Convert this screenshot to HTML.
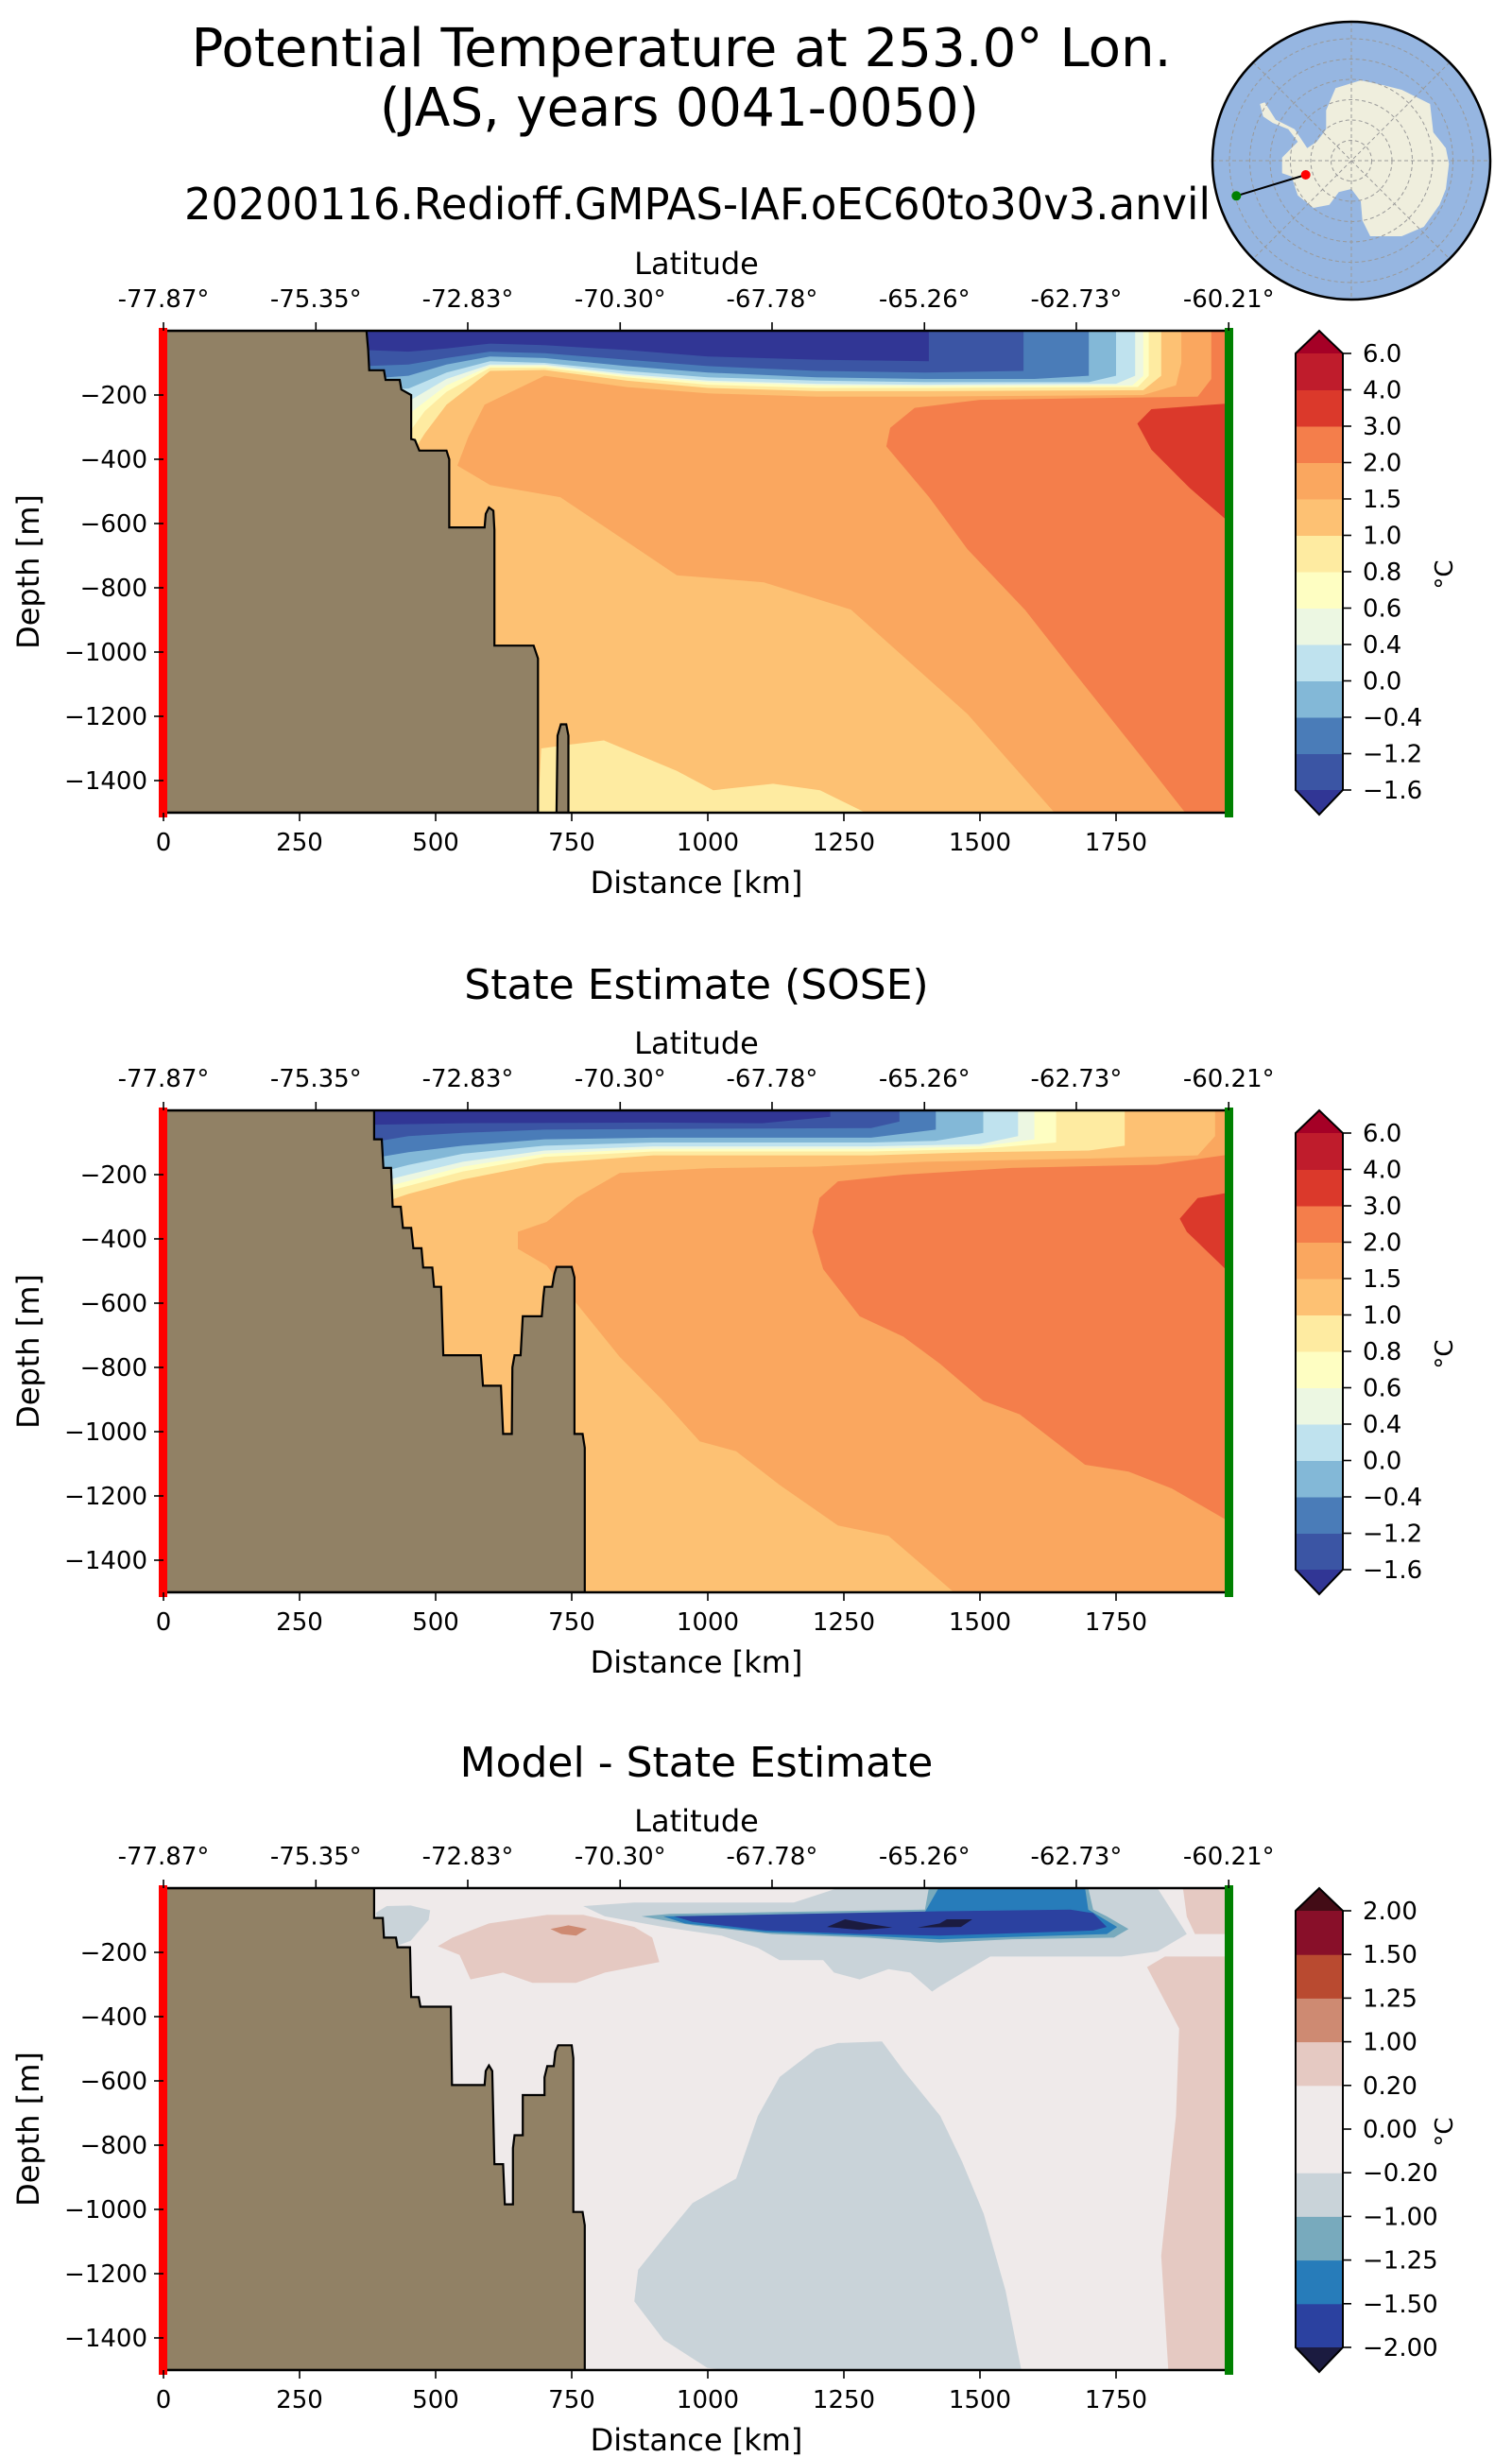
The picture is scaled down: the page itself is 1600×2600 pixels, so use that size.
<!DOCTYPE html>
<html><head><meta charset="utf-8">
<style>
html,body{margin:0;padding:0;background:#fff;}
svg{display:block;font-family:"DejaVu Sans","Liberation Sans",sans-serif;}
</style></head>
<body>
<svg id="chart" xmlns="http://www.w3.org/2000/svg" width="1600" height="2600" viewBox="0 0 1600 2600">
<rect x="0" y="0" width="1600" height="2600" fill="#fff"/>
<text x="721" y="70" font-size="56" text-anchor="middle" textLength="1037" lengthAdjust="spacingAndGlyphs">Potential Temperature at 253.0° Lon.</text>
<text x="719" y="133" font-size="56" text-anchor="middle" textLength="634" lengthAdjust="spacingAndGlyphs">(JAS, years 0041-0050)</text>
<text x="738" y="232" font-size="46" text-anchor="middle" textLength="1086" lengthAdjust="spacingAndGlyphs">20200116.Redioff.GMPAS-IAF.oEC60to30v3.anvil</text>
<g id="map"></g>
<g id="panels"></g>
</svg>
<script>
const NS='http://www.w3.org/2000/svg';
const svg=document.getElementById('chart');

// ---- data ----
const distTicks=[0,250,500,750,1000,1250,1500,1750];
const depthTicks=[200,400,600,800,1000,1200,1400];
const latTickKm=[0,280,559,839,1118,1398,1677,1957];
const latTickLabels=['-77.87°','-75.35°','-72.83°','-70.30°','-67.78°','-65.26°','-62.73°','-60.21°'];
const tempBounds=['−1.6','−1.2','−0.4','0.0','0.4','0.6','0.8','1.0','1.5','2.0','3.0','4.0','6.0'];
const tempColors=['#313695','#3b55a4','#4a7cb8','#83b8d7','#bfe2ee','#ecf7e2','#fefec2','#feeba1','#fdc173','#faa75f','#f47e4b','#db392b','#bf1c2c','#a50026'];
const diffBounds=['−2.00','−1.50','−1.25','−1.00','−0.20','0.00','0.20','1.00','1.25','1.50','2.00'];
const diffColors=['#1b1b40','#2b41a0','#277cba','#78aabd','#c9d3d9','#efeaea','#efeaea','#e5c9c2','#ce8a72','#b94a30','#880f29','#430c16'];

const p1Regions=[
 [9,[[1870,0],[1967,0],[1967,1500],[1637,1500],[1477,1193],[1263,868],[1103,783],[943,761],[729,518],[600,480],[540,420],[560,330],[590,230],[700,140],[850,175],[1000,195],[1200,205],[1400,205],[1800,200],[1860,170],[1870,100]]],
 [10,[[1925,0],[1967,0],[1967,1500],[1877,1500],[1797,1327],[1670,1057],[1583,869],[1477,680],[1406,517],[1328,360],[1335,302],[1380,240],[1500,215],[1700,210],[1900,205],[1925,150]]],
 [11,[[1967,225],[1815,244],[1789,289],[1815,370],[1885,489],[1967,610]]],
 [7,[[688,1500],[694,1300],[747,1288],[809,1275],[943,1370],[1010,1430],[1120,1410],[1206,1430],[1290,1500]]],
 [7,[[370,0],[1833,0],[1833,140],[1800,185],[1400,188],[1200,188],[1000,178],[850,155],[700,122],[600,125],[520,230],[480,320],[450,400],[370,400]]],
 [6,[[370,0],[1810,0],[1810,140],[1790,175],[1400,178],[1200,178],[1000,168],[850,145],[700,115],[600,115],[520,190],[480,250],[450,320],[370,320]]],
 [5,[[370,0],[1800,0],[1800,140],[1780,170],[1400,172],[1200,170],[1000,160],[850,140],[700,110],[600,110],[520,170],[450,260],[370,260]]],
 [4,[[370,0],[1785,0],[1785,140],[1750,165],[1400,168],[1200,165],[1000,155],[850,135],[700,105],[600,105],[520,150],[450,220],[370,220]]],
 [3,[[370,0],[1750,0],[1750,140],[1700,160],[1400,160],[1200,155],[1000,145],[850,125],[700,100],[600,95],[520,130],[450,180],[370,180]]],
 [2,[[370,0],[1700,0],[1700,140],[1600,150],[1400,150],[1200,145],[1000,130],[850,110],[700,85],[600,80],[520,105],[450,140],[370,150]]],
 [1,[[370,0],[1580,0],[1580,125],[1400,130],[1200,125],[1000,110],[850,90],[700,70],[600,65],[520,85],[450,105],[370,110]]],
 [0,[[370,0],[1406,0],[1406,95],[1200,90],[1000,80],[850,60],[700,45],[600,40],[520,55],[450,65],[370,60]]]
];
const p1Land=[[[0,0],[373,0],[376,60],[378,123],[405,123],[408,153],[434,153],[437,183],[455,200],[455,337],[462,340],[470,373],[520,373],[525,400],[525,612],[590,612],[592,570],[598,550],[606,560],[608,620],[608,980],[680,980],[688,1020],[688,1500],[0,1500]],
 [[722,1500],[724,1260],[730,1225],[740,1225],[744,1260],[744,1500]]];

const p2Regions=[
 [9,[[1932,0],[1967,0],[1967,1500],[1452,1500],[1332,1324],[1239,1292],[1132,1166],[1052,1061],[985,1030],[918,904],[838,767],[758,599],[704,483],[651,431],[651,378],[704,347],[758,273],[838,195],[1000,180],[1200,175],[1400,160],[1700,150],[1900,140],[1932,80]]],
 [10,[[1960,137],[1967,137],[1967,1282],[1960,1282],[1853,1177],[1773,1124],[1693,1103],[1573,946],[1506,904],[1426,788],[1359,704],[1279,641],[1212,494],[1192,378],[1205,273],[1239,221],[1359,200],[1559,179],[1826,169]]],
 [11,[[1967,253],[1900,273],[1867,337],[1880,378],[1967,520]]],
 [7,[[380,0],[1766,0],[1766,110],[1700,125],[1500,130],[1300,140],[1100,140],[900,140],[700,165],[550,215],[450,260],[380,300]]],
 [6,[[380,0],[1640,0],[1640,100],[1500,120],[1300,128],[900,128],[700,145],[550,190],[450,235],[380,265]]],
 [5,[[380,0],[1600,0],[1600,90],[1500,112],[1300,120],[900,120],[700,135],[550,175],[450,220],[380,250]]],
 [4,[[380,0],[1570,0],[1570,80],[1500,105],[1300,112],[900,112],[700,125],[550,160],[450,200],[380,230]]],
 [3,[[380,0],[1506,0],[1506,70],[1419,95],[1300,100],[900,100],[700,110],[550,135],[450,170],[380,200]]],
 [2,[[380,0],[1419,0],[1419,60],[1300,85],[900,85],[700,90],[550,110],[450,130],[380,150]]],
 [1,[[380,0],[1352,0],[1352,35],[1300,55],[900,58],[700,60],[550,70],[450,80],[380,100]]],
 [0,[[380,0],[1225,0],[1225,20],[1100,40],[900,38],[550,40],[380,45]]]
];
const p2Land=[[[0,0],[387,0],[387,90],[401,90],[404,179],[418,179],[421,300],[436,300],[440,366],[455,366],[459,429],[474,429],[477,489],[494,489],[497,549],[510,549],[514,762],[583,762],[587,857],[620,857],[624,1007],[640,1007],[641,800],[645,762],[656,762],[660,641],[695,641],[698,580],[700,549],[714,549],[718,510],[722,487],[750,487],[755,520],[755,1007],[770,1007],[774,1050],[774,1500],[0,1500]]];

const p3Regions=[
 [4,[[1239,482],[1320,477],[1360,569],[1427,709],[1467,851],[1507,1014],[1547,1253],[1576,1500],[1030,1500],[999,1493],[919,1406],[865,1286],[872,1188],[919,1089],[972,980],[1052,904],[1092,709],[1132,588],[1199,501]]],
 [4,[[390,77],[410,56],[454,54],[490,69],[487,99],[454,164],[430,179],[405,164]]],
 [4,[[771,56],[865,45],[1158,45],[1239,0],[1826,0],[1880,143],[1826,197],[1760,213],[1519,213],[1426,306],[1412,322],[1372,263],[1332,252],[1279,284],[1232,263],[1212,224],[1132,224],[1092,186],[1025,148],[918,121],[811,88]]],
 [7,[[504,181],[544,208],[564,284],[624,263],[678,295],[758,295],[811,263],[911,230],[898,154],[865,121],[771,83],[705,83],[598,110],[531,154]]],
 [8,[[711,127],[744,116],[778,127],[758,148],[731,143]]],
 [7,[[1873,0],[1967,0],[1967,143],[1895,143],[1880,89]]],
 [7,[[1807,246],[1840,213],[1967,213],[1967,1500],[1846,1500],[1833,1144],[1860,709],[1866,437]]],
 [3,[[878,88],[931,80],[1399,67],[1406,0],[1699,0],[1708,67],[1733,88],[1773,127],[1746,154],[1559,159],[1426,170],[1292,154],[1118,143],[972,116]]],
 [2,[[918,88],[1399,74],[1424,0],[1693,0],[1699,67],[1752,121],[1733,143],[1426,159],[1279,148],[1105,137],[958,110]]],
 [1,[[938,88],[1426,72],[1666,67],[1708,78],[1733,121],[1708,132],[1426,148],[1279,143],[1105,132],[972,105]]],
 [0,[[1219,121],[1252,97],[1292,110],[1339,123],[1279,130]]],
 [0,[[1385,123],[1426,110],[1439,97],[1486,97],[1465,121]]]
];
const p3Land=[[[0,0],[387,0],[387,93],[403,93],[405,154],[427,154],[430,184],[453,184],[455,339],[469,339],[472,369],[528,369],[530,613],[590,613],[592,569],[598,552],[604,569],[608,859],[624,859],[627,984],[642,984],[642,809],[645,769],[660,769],[660,644],[700,644],[700,589],[705,554],[717,554],[720,509],[725,489],[750,489],[753,529],[753,1008],[770,1008],[774,1049],[774,1500],[0,1500]]];

const X0=173, KX=0.576, KY=0.34, PW=1127, PH=510;
function xs(km){return X0+km*KX;}
function ys(T,d){return T+d*KY;}
function mk(tag,attrs,parent){const e=document.createElementNS(NS,tag);for(const k in attrs)e.setAttribute(k,attrs[k]);(parent||svg).appendChild(e);return e;}
function ptsStr(T,pts){return pts.map(p=>xs(p[0]).toFixed(1)+','+ys(T,p[1]).toFixed(1)).join(' ');}

function drawPanel(id,T,regions,land,bgIdx,colors,bounds,title){
  const g=mk('g',{});
  
  
  const clip=mk('clipPath',{id:id+'-clip'},g);
  mk('rect',{x:X0,y:T,width:PW,height:PH},clip);
  const plot=mk('g',{'clip-path':'url(#'+id+'-clip)'},g);
  
  
  const bg=mk('rect',{x:X0,y:T,width:PW,height:PH,fill:colors[bgIdx]},plot);
  
  
  regions.forEach((r,i)=>{
    const p=mk('polygon',{points:ptsStr(T,r[1]),fill:colors[r[0]]},plot);
    
    
  });
  land.forEach(l=>{
    const p=mk('polygon',{points:ptsStr(T,l),fill:'#918165',stroke:'#000','stroke-width':2.2,'stroke-linejoin':'miter'},plot);
    
    
  });
  const frame=mk('rect',{x:X0,y:T,width:PW,height:PH,fill:'none',stroke:'#000','stroke-width':2.5},g);
  
  
  const red=mk('rect',{x:X0-5,y:T-3,width:9,height:PH+8,fill:'#ff0000'},g);
  
  
  const green=mk('rect',{x:X0+PW-4,y:T-3,width:9,height:PH+8,fill:'#008000'},g);
  
  
  distTicks.forEach(v=>{
    const x=xs(v);
    mk('line',{x1:x,y1:T+PH,x2:x,y2:T+PH+9,stroke:'#000','stroke-width':1.6},g);
    const t=mk('text',{x:x,y:T+PH+40,'font-size':26,'text-anchor':'middle'},g);
    t.textContent=String(v);
    
    
  });
  latTickKm.forEach((v,i)=>{
    const x=xs(v);
    mk('line',{x1:x,y1:T-9,x2:x,y2:T,stroke:'#000','stroke-width':1.6},g);
    const t=mk('text',{x:x,y:T-25,'font-size':26,'text-anchor':'middle'},g);
    t.textContent=latTickLabels[i];
    
    
  });
  depthTicks.forEach(v=>{
    const y=ys(T,v);
    mk('line',{x1:X0-10,y1:y,x2:X0,y2:y,stroke:'#000','stroke-width':1.6},g);
    const t=mk('text',{x:X0-17,y:y+9,'font-size':26,'text-anchor':'end'},g);
    t.textContent='−'+v;
    
    
  });
  const lat=mk('text',{x:737,y:T-60,'font-size':32,'text-anchor':'middle'},g);
  lat.textContent='Latitude';
  
  
  const dist=mk('text',{x:737,y:T+595,'font-size':32,'text-anchor':'middle'},g);
  dist.textContent='Distance [km]';
  
  
  const dep=mk('text',{x:0,y:0,'font-size':32,'text-anchor':'middle',transform:'translate(41,'+(T+255)+') rotate(-90)'},g);
  dep.textContent='Depth [m]';
  
  
  if(title){
    const tt=mk('text',{x:737,y:T-118,'font-size':44,'text-anchor':'middle'},g);
    tt.textContent=title;
    
    
  }
  const cb=mk('g',{},g);
  
  
  const cx0=1371,cx1=1421,cTop=T+24,cBot=T+486,tipB=T+512,nb=bounds.length-1,bh=(cBot-cTop)/nb;
  for(let i=0;i<nb;i++){
    const r=mk('rect',{x:cx0,y:cBot-(i+1)*bh,width:cx1-cx0,height:bh+0.5,fill:colors[i+1]},cb);
    
    
  }
  const up=mk('polygon',{points:`${cx0},${cTop} ${(cx0+cx1)/2},${T} ${cx1},${cTop}`,fill:colors[colors.length-1]},cb);
  
  
  const dn=mk('polygon',{points:`${cx0},${cBot} ${(cx0+cx1)/2},${tipB} ${cx1},${cBot}`,fill:colors[0]},cb);
  
  
  mk('polygon',{points:`${cx0},${cTop} ${(cx0+cx1)/2},${T} ${cx1},${cTop} ${cx1},${cBot} ${(cx0+cx1)/2},${tipB} ${cx0},${cBot}`,fill:'none',stroke:'#000','stroke-width':2},cb);
  bounds.forEach((b,i)=>{
    const y=cBot-i*bh;
    mk('line',{x1:cx1,y1:y,x2:cx1+9,y2:y,stroke:'#000','stroke-width':1.6},cb);
    const t=mk('text',{x:1442,y:y+9,'font-size':26},cb);
    t.textContent=b;
    
    
  });
  const u=mk('text',{x:0,y:0,'font-size':26,'text-anchor':'middle',transform:'translate(1537,'+(T+258)+') rotate(-90)'},cb);
  u.textContent='°C';
  
  
}

drawPanel('model',350,p1Regions,p1Land,8,tempColors,tempBounds,null);
drawPanel('sose',1175,p2Regions,p2Land,8,tempColors,tempBounds,'State Estimate (SOSE)');
drawPanel('difference',1998,p3Regions,p3Land,5,diffColors,diffBounds,'Model - State Estimate');

const map=document.getElementById('map');
const MCX=1430,MCY=170,MR=147;
const mclip=mk('clipPath',{id:'mapclip'},map);
mk('circle',{cx:MCX,cy:MCY,r:MR},mclip);
const mg=mk('g',{'clip-path':'url(#mapclip)'},map);
mk('circle',{cx:MCX,cy:MCY,r:MR,fill:'#96b6e1'},mg);
const antZ=[[490,280],[570,255],[640,270],[700,285],[790,330],[800,420],[840,470],[850,520],[840,600],[820,650],[770,720],[700,750],[600,750],[575,700],[570,640],[540,600],[500,610],[470,650],[420,660],[370,620],[350,560],[320,550],[320,500],[370,450],[340,410],[290,390],[260,370],[250,330],[265,325],[300,380],[360,410],[400,470],[430,450],[460,410],[460,350]];
const ant=mk('polygon',{points:antZ.map(p=>(p[0]/3+1250).toFixed(1)+','+(p[1]/3).toFixed(1)).join(' '),fill:'#efeedd'},mg);


for(let k=1;k<=6;k++)mk('circle',{cx:MCX,cy:MCY,r:21.5*k,fill:'none',stroke:'#999','stroke-width':1,'stroke-dasharray':'4,3'},mg);
for(let a=0;a<4;a++){const an=a*Math.PI/4;mk('line',{x1:MCX-MR*Math.cos(an),y1:MCY-MR*Math.sin(an),x2:MCX+MR*Math.cos(an),y2:MCY+MR*Math.sin(an),stroke:'#999','stroke-width':1,'stroke-dasharray':'4,3'},mg);}
mk('line',{x1:1381.7,y1:185,x2:1308.3,y2:207.3,stroke:'#000','stroke-width':2},map);
const rd=mk('circle',{cx:1381.7,cy:185,r:5,fill:'#ff0000'},map);


const gd=mk('circle',{cx:1308.3,cy:207.3,r:5,fill:'#008000'},map);


mk('circle',{cx:MCX,cy:MCY,r:MR,fill:'none',stroke:'#000','stroke-width':2.5},map);
</script>
</body></html>
